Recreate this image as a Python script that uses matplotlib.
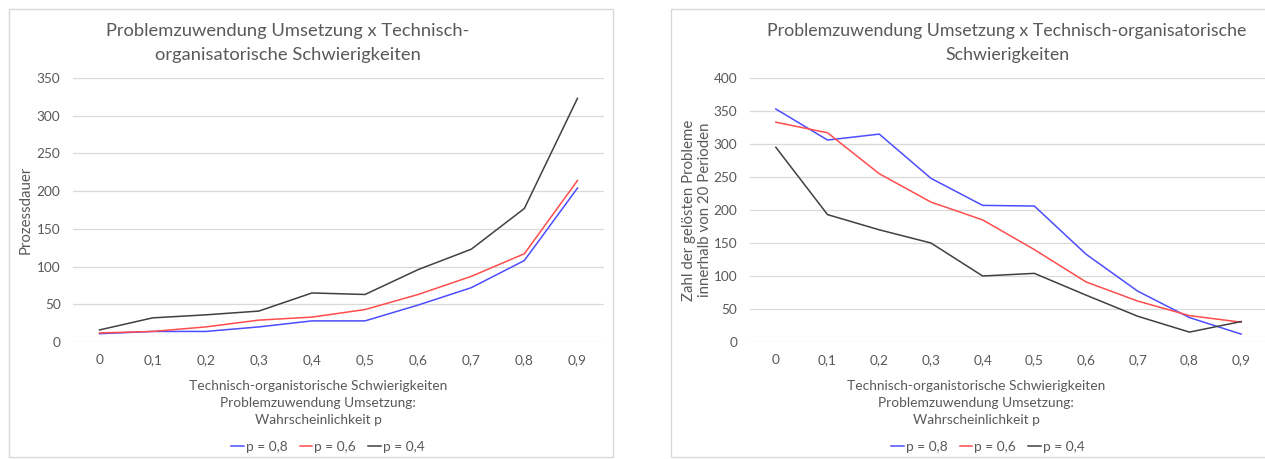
import matplotlib
matplotlib.use('Agg')
import matplotlib.pyplot as plt
from matplotlib.patches import Rectangle
from matplotlib.lines import Line2D

plt.rcParams['font.family'] = ['Lato', 'DejaVu Sans']

W, H = 1265, 459

categories = ['0', '0,1', '0,2', '0,3', '0,4', '0,5', '0,6', '0,7', '0,8', '0,9']
series_labels = ['p = 0,8', 'p = 0,6', 'p = 0,4']
colors = ['#4D4DFF', '#FF4D4D', '#404040']

# Prozessdauer
dauer_p08 = [11, 14, 14, 20, 28, 28, 49, 72, 108, 204]
dauer_p06 = [12, 14, 20, 29, 33, 43, 63, 87, 117, 214]
dauer_p04 = [16, 32, 36, 41, 65, 63, 96, 123, 177, 323]

# Zahl der gelösten Probleme innerhalb von 20 Perioden
geloest_p08 = [353, 306, 315, 248, 207, 206, 133, 77, 37, 12]
geloest_p06 = [333, 317, 255, 212, 185, 140, 91, 62, 40, 30]
geloest_p04 = [295, 193, 170, 150, 100, 104, 71, 39, 15, 31]

title_left = 'Problemzuwendung Umsetzung x Technisch-\norganisatorische Schwierigkeiten'
title_right = 'Problemzuwendung Umsetzung x Technisch-organisatorische\nSchwierigkeiten'
xlabel = ('Technisch-organistorische Schwierigkeiten\n'
          'Problemzuwendung Umsetzung:\nWahrscheinlichkeit p')

GREY = '#595959'
GRID = '#D9D9D9'


def px(x, y):
    return x / W, 1 - y / H


def add_axes(x0, x1, ytop, ybot):
    left, bottom = x0 / W, 1 - ybot / H
    return fig.add_axes([left, bottom, (x1 - x0) / W, (ybot - ytop) / H])


def style(ax, ymax, step):
    ax.set_xlim(-0.5, len(categories) - 0.5)
    ax.set_ylim(0, ymax)
    ax.set_xticks(range(len(categories)))
    ax.set_xticklabels(categories)
    ax.set_yticks(range(0, ymax + 1, step))
    ax.grid(axis='y', color=GRID, lw=0.9)
    ax.set_axisbelow(True)
    for s in ax.spines.values():
        s.set_visible(False)
    ax.tick_params(length=0, colors=GREY, labelsize=9.8, pad=9)


def panel(ax, data, title, title_x, title_size, label_x, legend_x):
    for vals, c, lab in zip(data, colors, series_labels):
        ax.plot(range(len(categories)), vals, color=c, lw=1.1, label=lab)
    fig.text(*px(title_x, 43), title, ha='center', va='center',
             fontsize=title_size, color=GREY, linespacing=1.55)
    fig.text(*px(label_x, 403), xlabel, ha='center', va='center',
             fontsize=9.9, color=GREY, linespacing=1.5)
    handles = [Line2D([], [], color=c, lw=1.1) for c in colors]
    fig.legend(handles, series_labels, loc='center',
               bbox_to_anchor=px(legend_x, 447), ncol=3, frameon=False,
               fontsize=9.9, labelcolor=GREY, handlelength=0.9,
               handletextpad=0.15, columnspacing=0.9)


fig = plt.figure(figsize=(W / 100, H / 100), dpi=100)

# panel borders
fig.patches.append(Rectangle(px(9, 457), 604 / W, 448 / H, fill=False,
                             ec=GRID, lw=1, transform=fig.transFigure))
fig.patches.append(Rectangle(px(671, 457), 640 / W, 448 / H, fill=False,
                             ec=GRID, lw=1, transform=fig.transFigure))

ax1 = add_axes(73, 604, 78, 342)
style(ax1, 350, 50)
panel(ax1, [dauer_p08, dauer_p06, dauer_p04], title_left, 288, 13.2, 318, 328)
ax1.set_ylabel('Prozessdauer', color=GREY, fontsize=10.8, labelpad=3)

ax2 = add_axes(750, 1267, 78, 342)
style(ax2, 400, 50)
panel(ax2, [geloest_p08, geloest_p06, geloest_p04], title_right, 1007, 12.8,
      976, 988)
ax2.set_ylabel('Zahl der gelösten Probleme\ninnerhalb von 20 Perioden',
               color=GREY, fontsize=10.8, labelpad=1, linespacing=1.2)

fig.savefig('out.png', dpi=100)
